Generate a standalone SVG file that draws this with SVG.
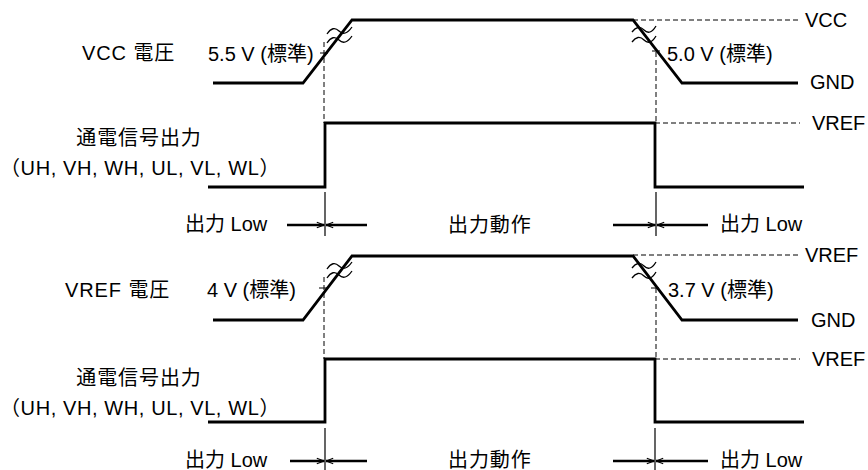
<svg xmlns="http://www.w3.org/2000/svg" width="868" height="470" viewBox="0 0 868 470">
<style>
text{font-family:"Liberation Sans","Noto Sans CJK JP",sans-serif;font-size:20px;fill:#000}
.p{letter-spacing:0.9px}
.q{letter-spacing:0.6px}
.w{fill:none;stroke:#000;stroke-width:2.8;stroke-linejoin:miter}
.d{fill:none;stroke:#000;stroke-width:1;stroke-dasharray:5 3}
.t{fill:none;stroke:#000;stroke-width:1.2}
.sq{fill:none;stroke:#000;stroke-width:1.3}
.a{fill:none;stroke:#000;stroke-width:2.5}
</style>
<defs>
<marker id="ah" viewBox="0 0 10 10" refX="10" refY="5" markerWidth="9" markerHeight="8" markerUnits="userSpaceOnUse" orient="auto">
<path d="M1,1.5 L10,5 L1,8.5" fill="none" stroke="#000" stroke-width="1.4"/>
</marker>
</defs>
<rect width="868" height="470" fill="#fff"/>

<g id="vcc-wave">
<path class="w" d="M213,83 H303 L352,20 H633 L682,83 H798"/>
<path class="sq" d="M327,34 Q333,25 339,31 T352,27"/>
<path class="sq" d="M327,43 Q333,34 339,40 T352,36"/>
<path class="sq" d="M632,32 Q638,24 644,30 T656,26"/>
<path class="sq" d="M632,42 Q638,34 644,40 T656,36"/>
<path class="d" d="M633,20 H800"/>
<path class="d" d="M324,42 V123"/>
<path class="d" d="M656,52 V123"/>
<path class="t" d="M320,53 H328 M652,51 H660"/>
<text x="82" y="60" class="p">VCC 電圧</text>
<text x="208" y="61">5.5 V (標準)</text>
<text x="667" y="61">5.0 V (標準)</text>
<text x="805" y="27">VCC</text>
<text x="810" y="89">GND</text>
</g>

<g id="signal-1">
<path class="w" d="M208,187 H325 V123 H655 V187 H804"/>
<path class="d" d="M655,123 H800"/>
<text x="139" y="145" text-anchor="middle" class="p">通電信号出力</text>
<text x="0" y="175" class="q">（UH, VH, WH, UL, VL, WL）</text>
<text x="812" y="130">VREF</text>
</g>

<g id="vref-wave">
<path class="w" d="M213,320 H303 L352,256 H633 L682,320 H798"/>
<path class="sq" d="M327,269 Q333,260 339,266 T352,262"/>
<path class="sq" d="M327,278 Q333,269 339,275 T352,271"/>
<path class="sq" d="M632,268 Q638,260 644,266 T656,262"/>
<path class="sq" d="M632,278 Q638,270 644,276 T656,272"/>
<path class="d" d="M633,255 H800"/>
<path class="d" d="M324,277 V359"/>
<path class="d" d="M656,288 V359"/>
<path class="t" d="M319,288 H328 M651,288 H659"/>
<text x="65" y="297" class="p">VREF 電圧</text>
<text x="207" y="297">4 V (標準)</text>
<text x="668" y="297">3.7 V (標準)</text>
<text x="805" y="262">VREF</text>
<text x="811" y="327">GND</text>
</g>

<g id="signal-2">
<path class="w" d="M208,422 H325 V359 H655 V422 H804"/>
<path class="d" d="M655,359 H800"/>
<text x="139" y="385" text-anchor="middle" class="p">通電信号出力</text>
<text x="0" y="415" class="q">（UH, VH, WH, UL, VL, WL）</text>
<text x="812" y="366">VREF</text>
</g>

<g id="connectors">
<path class="t" d="M325,192 V236 M656,192 V236 M325,428 V470 M655,428 V470"/>
<line class="a" x1="287" y1="225" x2="324" y2="225" marker-end="url(#ah)"/>
<line class="a" x1="367" y1="225" x2="326" y2="225" marker-end="url(#ah)"/>
<line class="a" x1="613" y1="225" x2="655" y2="225" marker-end="url(#ah)"/>
<line class="a" x1="708" y1="225" x2="657" y2="225" marker-end="url(#ah)"/>
<line class="a" x1="290" y1="461" x2="324" y2="461" marker-end="url(#ah)"/>
<line class="a" x1="367" y1="461" x2="326" y2="461" marker-end="url(#ah)"/>
<line class="a" x1="613" y1="461" x2="654" y2="461" marker-end="url(#ah)"/>
<line class="a" x1="708" y1="461" x2="656" y2="461" marker-end="url(#ah)"/>
</g>

<g id="phase-labels">
<text x="185" y="231">出力 Low</text>
<text x="448" y="232" class="p">出力動作</text>
<text x="720" y="231">出力 Low</text>
<text x="185" y="467">出力 Low</text>
<text x="448" y="467" class="p">出力動作</text>
<text x="720" y="467">出力 Low</text>
</g>
</svg>
